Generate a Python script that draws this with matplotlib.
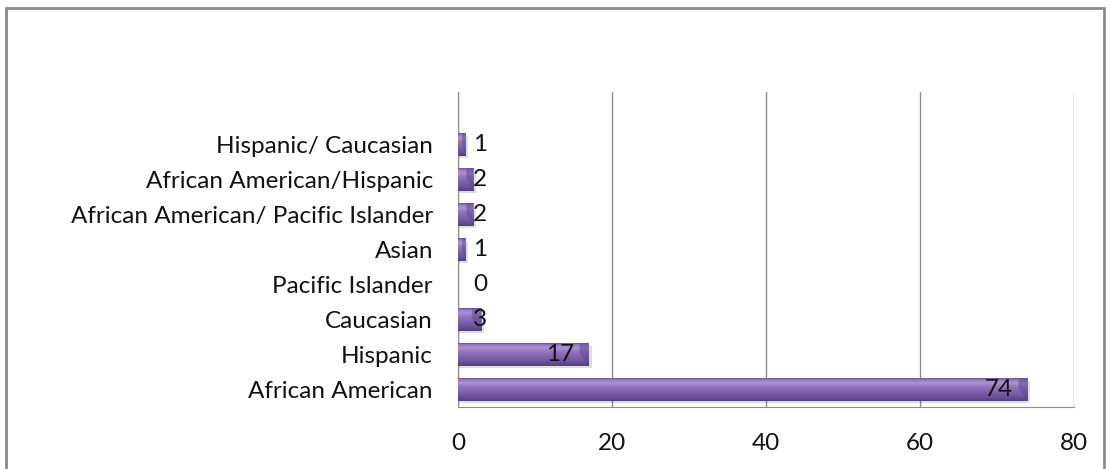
import numpy as np
import matplotlib.pyplot as plt
from matplotlib.colors import LinearSegmentedColormap
from matplotlib.patches import Rectangle, Polygon

# Respondents by ethnicity
categories = ["African American", "Hispanic", "Caucasian", "Pacific Islander",
              "Asian", "African American/ Pacific Islander",
              "African American/Hispanic", "Hispanic/ Caucasian"]
counts = [74, 17, 3, 0, 1, 2, 2, 1]
x_ticks = [0, 20, 40, 60, 80]

plt.rcParams["font.family"] = ["Lato", "DejaVu Sans"]
fs = 17.5

fig = plt.figure(figsize=(11.11, 4.69), dpi=100)
ax = fig.add_axes([0.4122, 0.1322, 0.5545, 0.6716])

# outer frame of the chart area
fig.patches.append(Rectangle((6 / 1111, -0.05), 1098 / 1111, 1.05 - 8 / 469,
                             transform=fig.transFigure, fill=False,
                             edgecolor="#8a8a8a", linewidth=2))

ypos = list(range(len(categories)))
h = 0.64

# vertical shading of each bar, bottom -> top
shade = LinearSegmentedColormap.from_list(
    "bevel", [(0.0, "#563f7e"), (0.18, "#6b519b"), (0.45, "#8466b0"),
              (0.62, "#9174bd"), (0.78, "#ad92d3"), (0.92, "#9a7ec4"),
              (1.0, "#6c5296")])
grad = np.linspace(0, 1, 64).reshape(-1, 1)

# soft shadow under the bars
ax.barh([y - 0.07 for y in ypos], [c + 0.35 if c > 0 else 0 for c in counts],
        height=h, color="#000000", alpha=0.13, zorder=2, linewidth=0)
bars = ax.barh(ypos, counts, height=h, color="#7b5ea6", zorder=3, linewidth=0)
for bar in bars:
    x0, y0 = bar.get_x(), bar.get_y()
    w, bh = bar.get_width(), bar.get_height()
    if w <= 0:
        continue
    im = ax.imshow(grad, cmap=shade, origin="lower", aspect="auto",
                   extent=(x0, x0 + w, y0, y0 + bh), zorder=4)
    im.set_clip_path(bar)
    # bevelled right end
    e = min(1.2, w * 0.45)
    ax.add_patch(Polygon([(x0 + w - e, y0 + bh), (x0 + w, y0 + bh),
                          (x0 + w, y0), (x0 + w - e, y0 + bh * 0.55)],
                         closed=True, facecolor="#5e4688", alpha=0.5,
                         linewidth=0, zorder=4.5))

# value labels
for y, c in zip(ypos, counts):
    if c >= 10:
        ax.text(c - 1.9, y, str(c), ha="right", va="center",
                fontsize=fs, color="#111111", zorder=5)
    else:
        ax.text(2.0, y, str(c), ha="left", va="center",
                fontsize=fs, color="#111111", zorder=5)

ax.set_xlim(0, 80)
ax.set_ylim(-0.5, 8.5)
ax.set_xticks(x_ticks)
ax.set_yticks(ypos)
ax.set_yticklabels(categories)
ax.tick_params(axis="both", length=0, labelsize=fs, colors="#111111")
ax.tick_params(axis="y", pad=18)
ax.tick_params(axis="x", pad=19)

ax.xaxis.grid(True, color="#8c8c8c", linewidth=1)
ax.set_axisbelow(True)
for side in ["top", "right"]:
    ax.spines[side].set_visible(False)
ax.spines["left"].set_color("#8c8c8c")
ax.spines["bottom"].set_color("#8c8c8c")

fig.savefig("out.png", dpi=100)
